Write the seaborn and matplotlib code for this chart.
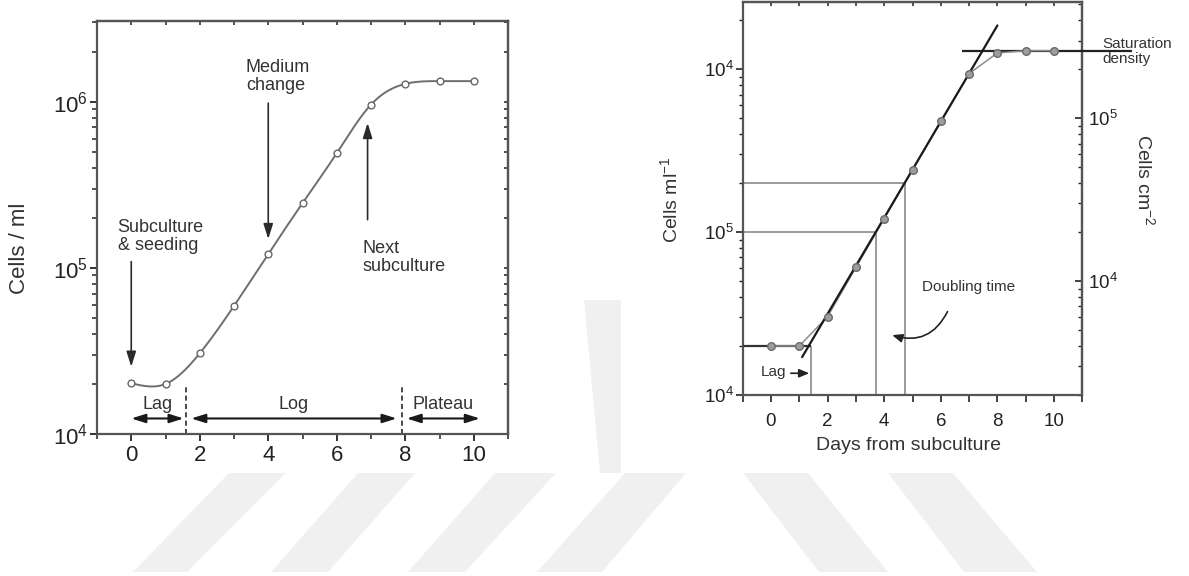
import numpy as np
import pandas as pd
import matplotlib
matplotlib.use("Agg")
import matplotlib.pyplot as plt
import seaborn as sns
from matplotlib.patches import Polygon, FancyArrowPatch
from matplotlib.ticker import LogLocator, MultipleLocator, NullFormatter, FixedLocator

sns.set_style("ticks")
plt.rcParams["font.family"] = ["Liberation Sans", "DejaVu Sans"]
plt.rcParams["mathtext.fontset"] = "custom"
plt.rcParams["mathtext.rm"] = "Liberation Sans"
plt.rcParams["mathtext.it"] = "Liberation Sans:italic"
plt.rcParams["mathtext.bf"] = "Liberation Sans:bold"

# ---------------- data ----------------
days = [0, 1, 2, 3, 4, 5, 6, 7, 8, 9, 10]
cells_left = [2.02e4, 2.0e4, 3.06e4, 5.9e4, 1.21e5, 2.45e5, 4.9e5, 9.6e5, 1.28e6, 1.33e6, 1.33e6]
cells_right = [2.0e4, 2.0e4, 3.03e4, 6.07e4, 1.21e5, 2.42e5, 4.83e5, 9.4e5, 1.26e6, 1.30e6, 1.30e6]
x_ticks = [0, 2, 4, 6, 8, 10]
left_ytick_labels = ["$10^4$", "$10^5$", "$10^6$"]
right_ytick_labels = ["$10^4$", "$10^5$", "$10^4$"]
area_ticks = [1e4, 1e5]
area_tick_labels = ["$10^4$", "$10^5$"]
phase_labels = ["Lag", "Log", "Plateau"]
phase_starts = [0.0, 1.75, 8.04]
phase_ends = [1.53, 7.75, 10.18]
phase_bounds = [1.61, 7.9]
doubling_days = [3.70, 4.72]
doubling_cells = [1.0e5, 2.0e5]
fit_range = [1.1, 8.0]
lag_end = 1.41
seed_level = 2.0e4
saturation_level = 1.29e6
saturation_range = [6.75, 12.74]
area_factor = 5.0  # cells per ml -> cells per cm2

W, H = 1189, 576
fig = plt.figure(figsize=(W / 100, H / 100), dpi=100)

# ---------------- watermark (background decoration) ----------------
wm_color = "#f0f0f0"
def fpoly(pts):
    p = Polygon([(x / W, 1 - y / H) for x, y in pts], closed=True,
                transform=fig.transFigure, facecolor=wm_color, edgecolor="none", zorder=-10)
    fig.patches.append(p)
stripes = [(133, 187, 229, 286), (271, 328, 358, 415), (408, 465, 495, 556),
           (537, 602, 625, 686), (819, 888, 743, 808), (964, 1037, 888, 953)]
for b0, b1, t0, t1 in stripes:
    fpoly([(b0, 572), (b1, 572), (t1, 473), (t0, 473)])
fpoly([(584, 300), (621, 300), (621, 473), (600, 473)])

TXT = "#333333"
SPINE = "#555555"

# ---------------- left panel ----------------
axL = fig.add_axes([97 / W, 1 - 434 / H, (508 - 97) / W, (434 - 21) / H])
axL.set_yscale("log")


def natural_spline(x, y, xs):
    x = np.asarray(x, float)
    y = np.asarray(y, float)
    n = len(x)
    h = np.diff(x)
    A = np.zeros((n, n))
    r = np.zeros(n)
    A[0, 0] = A[-1, -1] = 1
    for i in range(1, n - 1):
        A[i, i - 1] = h[i - 1]
        A[i, i] = 2 * (h[i - 1] + h[i])
        A[i, i + 1] = h[i]
        r[i] = 3 * ((y[i + 1] - y[i]) / h[i] - (y[i] - y[i - 1]) / h[i - 1])
    c = np.linalg.solve(A, r)
    b = np.diff(y) / h - h * (2 * c[:-1] + c[1:]) / 3
    d = np.diff(c) / (3 * h)
    idx = np.clip(np.searchsorted(x, xs) - 1, 0, n - 2)
    t = xs - x[idx]
    return y[idx] + b[idx] * t + c[idx] * t ** 2 + d[idx] * t ** 3


xs = np.linspace(days[0], days[-1], 400)
smooth = pd.DataFrame({"day": xs,
                       "cells": 10 ** natural_spline(days, np.log10(cells_left), xs)})
pts_left = pd.DataFrame({"day": days, "cells": cells_left})
sns.lineplot(data=smooth, x="day", y="cells", ax=axL, color="#6e6e6e", lw=1.4,
             sort=False, estimator=None, zorder=3)
sns.scatterplot(data=pts_left, x="day", y="cells", ax=axL, s=24, marker="o",
                facecolor="white", edgecolor="#666666", linewidth=1.0, zorder=4)

axL.set_xlim(-1, 11)
axL.set_ylim(1e4, 3.06e6)
axL.set_xticks(x_ticks)
axL.xaxis.set_minor_locator(MultipleLocator(1))
axL.set_yticks([1e4, 1e5, 1e6])
axL.set_yticklabels(left_ytick_labels)
axL.yaxis.set_minor_locator(LogLocator(base=10, subs=np.arange(2, 10)))
axL.yaxis.set_minor_formatter(NullFormatter())
axL.tick_params(which="major", direction="out", length=5, width=1.3, color="#222",
                labelsize=16, labelcolor="#222")
axL.tick_params(axis="y", which="major", pad=1.5)
axL.tick_params(axis="x", which="major", pad=3)
axL.tick_params(which="minor", direction="out", length=3.5, width=1.1, color="#222")
for s in axL.spines.values():
    s.set_color(SPINE)
    s.set_linewidth(1.6)
axL.set_xlabel("")
axL.set_ylabel("Cells / ml", fontsize=16, color=TXT)
axL.yaxis.label.set_va("center")
axL.yaxis.set_label_coords((20 - 97) / 411, (434 - 248) / 413)

tL = axL.secondary_xaxis("top")
tL.xaxis.set_major_locator(MultipleLocator(1))
tL.tick_params(direction="in", length=3, width=1.1, color="#222", labeltop=False)
tL.spines["top"].set_color(SPINE)
tL.spines["top"].set_linewidth(1.6)
rL = axL.secondary_yaxis("right")
rL.yaxis.set_major_locator(FixedLocator([1e4, 1e5, 1e6]))
rL.yaxis.set_minor_locator(LogLocator(base=10, subs=np.arange(2, 10)))
rL.tick_params(which="both", direction="in", length=3, width=1.1, color="#222",
               labelright=False)
rL.spines["right"].set_color(SPINE)
rL.spines["right"].set_linewidth(1.6)

arrow_kw = dict(arrowstyle="-|>,head_length=0.7,head_width=0.22", color="#2a2a2a",
                lw=1.2, mutation_scale=13, shrinkA=0, shrinkB=0)
axL.annotate("", xy=(0, 2.54e4), xytext=(0, 1.09e5), arrowprops=arrow_kw)
axL.annotate("", xy=(4, 1.49e5), xytext=(4, 9.8e5), arrowprops=arrow_kw)
axL.annotate("", xy=(6.9, 7.45e5), xytext=(6.9, 1.95e5), arrowprops=arrow_kw)
axL.text(-0.40, 1.54e5, "Subculture\n& seeding", fontsize=13, color=TXT,
         ha="left", va="center", linespacing=1.05)
axL.text(3.35, 1.42e6, "Medium\nchange", fontsize=13, color=TXT,
         ha="left", va="center", linespacing=1.05)
axL.text(6.75, 1.15e5, "Next\nsubculture", fontsize=13, color=TXT,
         ha="left", va="center", linespacing=1.05)

axL.vlines(phase_bounds, 1e4, 1.97e4, colors="#2a2a2a", lw=1.2, linestyles=(0, (3, 2)))
dbl_kw = dict(arrowstyle="<|-|>,head_length=0.7,head_width=0.22", color="#1a1a1a",
              lw=1.5, mutation_scale=12, shrinkA=0, shrinkB=0)
for lab, x0, x1 in zip(phase_labels, phase_starts, phase_ends):
    axL.annotate("", xy=(x1, 1.24e4), xytext=(x0, 1.24e4), arrowprops=dbl_kw)
    axL.text((x0 + x1) / 2, 1.5e4, lab, fontsize=13, color=TXT, ha="center", va="center")

# ---------------- right panel ----------------
axR = fig.add_axes([742.7 / W, 1 - 395 / H, (1082.3 - 742.7) / W, (395 - 1.7) / H])
axR.set_yscale("log")

pts_right = pd.DataFrame({"day": days, "cells": cells_right})
slope = (np.log10(doubling_cells[1]) - np.log10(doubling_cells[0])) / (doubling_days[1] - doubling_days[0])
fit = pd.DataFrame({"day": fit_range,
                    "cells": [10 ** (np.log10(doubling_cells[0]) + slope * (d - doubling_days[0]))
                              for d in fit_range]})

GUIDE = "#8a8a8a"
axR.hlines(doubling_cells, -1, doubling_days, colors=GUIDE, lw=1.2, zorder=2)
axR.vlines(doubling_days, 1e4, doubling_cells, colors=GUIDE, lw=1.2, zorder=2)
axR.vlines([lag_end], 1e4, seed_level, colors=GUIDE, lw=1.2, zorder=2)
axR.hlines([seed_level], -1, lag_end, colors="#333333", lw=1.6, zorder=3)
axR.hlines([saturation_level], saturation_range[0], saturation_range[1], colors="#222222",
           lw=1.6, zorder=3, clip_on=False)

sns.lineplot(data=pts_right, x="day", y="cells", ax=axR, color="#8c8c8c", lw=1.1, zorder=3)
sns.lineplot(data=fit, x="day", y="cells", ax=axR, color="#1a1a1a", lw=1.6, zorder=4)
sns.scatterplot(data=pts_right, x="day", y="cells", ax=axR, s=30, marker="o",
                facecolor="#9d9d9d", edgecolor="#6a6a6a", linewidth=1.0, zorder=5)

axR.set_xlim(-1, 11)
axR.set_ylim(1e4, 2.6e6)
axR.set_xticks(x_ticks)
axR.xaxis.set_minor_locator(MultipleLocator(1))
axR.set_yticks([1e4, 1e5, 1e6])
axR.set_yticklabels(right_ytick_labels)
axR.yaxis.set_minor_locator(LogLocator(base=10, subs=np.arange(2, 10)))
axR.yaxis.set_minor_formatter(NullFormatter())
axR.tick_params(which="major", direction="out", length=5, width=1.2, color="#222",
                labelsize=13.5, labelcolor="#222")
axR.tick_params(axis="y", which="major", pad=1.5)
axR.tick_params(axis="x", which="both", length=5, pad=8)
axR.tick_params(axis="y", which="minor", direction="out", length=3, width=1.0, color="#222")
axR.tick_params(axis="x", which="minor", width=1.2)
for s in axR.spines.values():
    s.set_color(SPINE)
    s.set_linewidth(1.6)
axR.set_xlabel("Days from subculture", fontsize=14, color=TXT)
axR.xaxis.label.set_va("center")
axR.xaxis.set_label_coords((908 - 742.7) / 339.6, (395 - 445) / 393.3)
axR.set_ylabel("Cells ml$^{-1}$", fontsize=14, color=TXT)
axR.yaxis.label.set_va("center")
axR.yaxis.set_label_coords((669.8 - 742.7) / 339.6, (395 - 200) / 393.3)

tR = axR.secondary_xaxis("top")
tR.xaxis.set_major_locator(MultipleLocator(1))
tR.tick_params(direction="in", length=3, width=1.1, color="#222", labeltop=False)
tR.spines["top"].set_color(SPINE)
tR.spines["top"].set_linewidth(1.6)

rR = axR.secondary_yaxis("right", functions=(lambda y: y / area_factor,
                                              lambda y: y * area_factor))
rR.set_yticks(area_ticks)
rR.set_yticklabels(area_tick_labels)
rR.yaxis.set_minor_locator(LogLocator(base=10, subs=np.arange(2, 10)))
rR.yaxis.set_minor_formatter(NullFormatter())
rR.tick_params(which="major", direction="in", length=5, width=1.2, color="#222",
               labelsize=13.5, labelcolor="#222", pad=4)
rR.tick_params(which="minor", direction="in", length=3, width=1.0, color="#222")
rR.spines["right"].set_color(SPINE)
rR.spines["right"].set_linewidth(1.6)
fig.text(1144.7 / W, 1 - 180 / H, "Cells cm$^{-2}$", fontsize=14, color=TXT,
         rotation=270, ha="center", va="center", rotation_mode="anchor")

axR.text(11.72, saturation_level, "Saturation\ndensity", fontsize=11, color=TXT,
         ha="left", va="center", linespacing=1.1, clip_on=False)
axR.text(5.33, 4.6e4, "Doubling time", fontsize=11, color=TXT, ha="left", va="center")
axR.text(-0.35, 1.39e4, "Lag", fontsize=11, color=TXT, ha="left", va="center")
axR.annotate("", xy=(1.35, 1.36e4), xytext=(0.70, 1.36e4),
             arrowprops=dict(arrowstyle="-|>,head_length=0.6,head_width=0.25", color="#222",
                             lw=1.2, mutation_scale=10, shrinkA=0, shrinkB=0))
curve = FancyArrowPatch((6.28, 3.37e4), (4.19, 2.36e4),
                        connectionstyle="arc3,rad=-0.45",
                        arrowstyle="-|>,head_length=0.6,head_width=0.25",
                        color="#222", lw=1.2, mutation_scale=10, zorder=6)
axR.add_patch(curve)

fig.savefig("out.png", dpi=100, facecolor="white")
